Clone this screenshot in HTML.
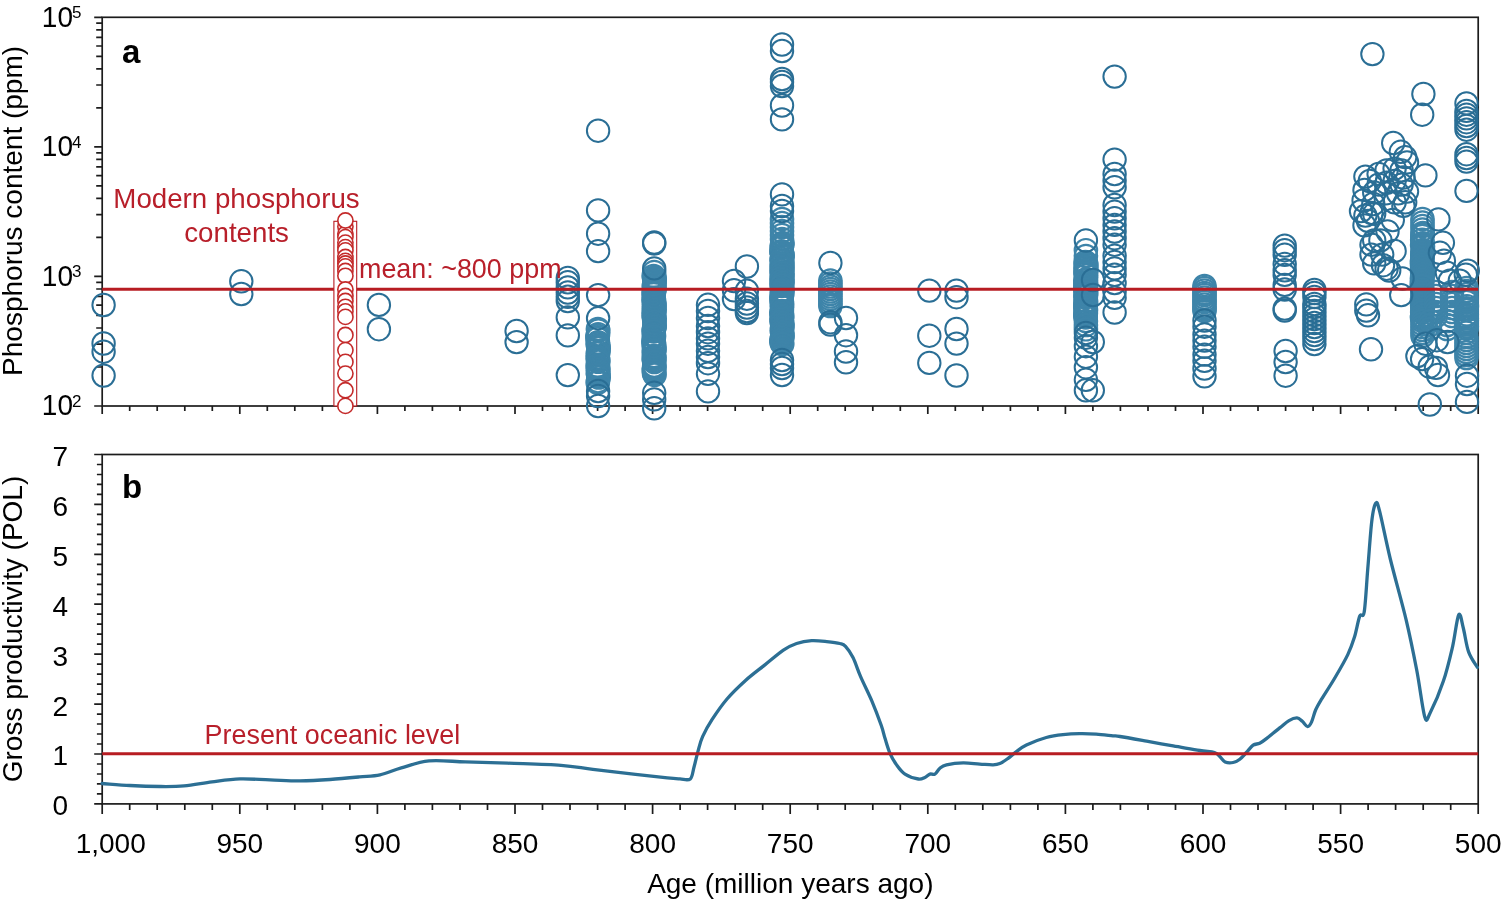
<!DOCTYPE html>
<html><head><meta charset="utf-8"><title>Phosphorus content and gross productivity</title>
<style>html,body{margin:0;padding:0;background:#fff;}svg{display:block;}text{font-family:"Liberation Sans",Arial,sans-serif;}</style></head><body>
<svg width="1503" height="904" viewBox="0 0 1503 904">
<rect x="0" y="0" width="1503" height="904" fill="#fff"/>
<path d="M94.2 406.0H102.2M96.2 367.0H102.2M96.2 344.2H102.2M96.2 328.0H102.2M96.2 315.4H102.2M96.2 305.2H102.2M96.2 296.5H102.2M96.2 289.0H102.2M96.2 282.4H102.2M94.2 276.4H102.2M96.2 237.4H102.2M96.2 214.6H102.2M96.2 198.4H102.2M96.2 185.9H102.2M96.2 175.6H102.2M96.2 166.9H102.2M96.2 159.4H102.2M96.2 152.8H102.2M94.2 146.9H102.2M96.2 107.9H102.2M96.2 85.0H102.2M96.2 68.9H102.2M96.2 56.3H102.2M96.2 46.0H102.2M96.2 37.4H102.2M96.2 29.9H102.2M96.2 23.2H102.2M94.2 17.3H102.2M1478.2 406.0V414.0M1450.7 406.0V411.0M1423.2 406.0V411.0M1395.6 406.0V411.0M1368.1 406.0V411.0M1340.6 406.0V414.0M1313.1 406.0V411.0M1285.6 406.0V411.0M1258.0 406.0V411.0M1230.5 406.0V411.0M1203.0 406.0V414.0M1175.5 406.0V411.0M1148.0 406.0V411.0M1120.4 406.0V411.0M1092.9 406.0V411.0M1065.4 406.0V414.0M1037.9 406.0V411.0M1010.4 406.0V411.0M982.8 406.0V411.0M955.3 406.0V411.0M927.8 406.0V414.0M900.3 406.0V411.0M872.8 406.0V411.0M845.2 406.0V411.0M817.7 406.0V411.0M790.2 406.0V414.0M762.7 406.0V411.0M735.2 406.0V411.0M707.6 406.0V411.0M680.1 406.0V411.0M652.6 406.0V414.0M625.1 406.0V411.0M597.6 406.0V411.0M570.0 406.0V411.0M542.5 406.0V411.0M515.0 406.0V414.0M487.5 406.0V411.0M460.0 406.0V411.0M432.4 406.0V411.0M404.9 406.0V411.0M377.4 406.0V414.0M349.9 406.0V411.0M322.4 406.0V411.0M294.8 406.0V411.0M267.3 406.0V411.0M239.8 406.0V414.0M212.3 406.0V411.0M184.8 406.0V411.0M157.2 406.0V411.0M129.7 406.0V411.0M102.2 406.0V414.0M94.2 803.9H102.2M96.9 793.9H102.2M96.9 783.9H102.2M96.9 774.0H102.2M96.9 764.0H102.2M94.2 754.0H102.2M96.9 744.0H102.2M96.9 734.0H102.2M96.9 724.0H102.2M96.9 714.1H102.2M94.2 704.1H102.2M96.9 694.1H102.2M96.9 684.1H102.2M96.9 674.1H102.2M96.9 664.1H102.2M94.2 654.2H102.2M96.9 644.2H102.2M96.9 634.2H102.2M96.9 624.2H102.2M96.9 614.2H102.2M94.2 604.2H102.2M96.9 594.3H102.2M96.9 584.3H102.2M96.9 574.3H102.2M96.9 564.3H102.2M94.2 554.3H102.2M96.9 544.3H102.2M96.9 534.4H102.2M96.9 524.4H102.2M96.9 514.4H102.2M94.2 504.4H102.2M96.9 494.4H102.2M96.9 484.4H102.2M96.9 474.5H102.2M96.9 464.5H102.2M94.2 454.5H102.2M1478.2 803.9V813.9M1450.7 803.9V809.9M1423.2 803.9V809.9M1395.6 803.9V809.9M1368.1 803.9V809.9M1340.6 803.9V813.9M1313.1 803.9V809.9M1285.6 803.9V809.9M1258.0 803.9V809.9M1230.5 803.9V809.9M1203.0 803.9V813.9M1175.5 803.9V809.9M1148.0 803.9V809.9M1120.4 803.9V809.9M1092.9 803.9V809.9M1065.4 803.9V813.9M1037.9 803.9V809.9M1010.4 803.9V809.9M982.8 803.9V809.9M955.3 803.9V809.9M927.8 803.9V813.9M900.3 803.9V809.9M872.8 803.9V809.9M845.2 803.9V809.9M817.7 803.9V809.9M790.2 803.9V813.9M762.7 803.9V809.9M735.2 803.9V809.9M707.6 803.9V809.9M680.1 803.9V809.9M652.6 803.9V813.9M625.1 803.9V809.9M597.6 803.9V809.9M570.0 803.9V809.9M542.5 803.9V809.9M515.0 803.9V813.9M487.5 803.9V809.9M460.0 803.9V809.9M432.4 803.9V809.9M404.9 803.9V809.9M377.4 803.9V813.9M349.9 803.9V809.9M322.4 803.9V809.9M294.8 803.9V809.9M267.3 803.9V809.9M239.8 803.9V813.9M212.3 803.9V809.9M184.8 803.9V809.9M157.2 803.9V809.9M129.7 803.9V809.9M102.2 803.9V813.9" stroke="#1c1c1c" stroke-width="1.7" fill="none"/>
<rect x="102.2" y="17.3" width="1376.0" height="388.7" fill="none" stroke="#1c1c1c" stroke-width="1.7"/>
<rect x="102.2" y="454.5" width="1376.0" height="349.4" fill="none" stroke="#1c1c1c" stroke-width="1.7"/>
<text x="73" y="414.9" font-size="28" text-anchor="end" transform="translate(0 406.0) scale(1 1.06) translate(0 -406.0)">10</text>
<text x="72" y="406.6" font-size="17">2</text>
<text x="73" y="285.3" font-size="28" text-anchor="end" transform="translate(0 276.4) scale(1 1.06) translate(0 -276.4)">10</text>
<text x="72" y="277.0" font-size="17">3</text>
<text x="73" y="155.8" font-size="28" text-anchor="end" transform="translate(0 146.9) scale(1 1.06) translate(0 -146.9)">10</text>
<text x="72" y="147.5" font-size="17">4</text>
<text x="73" y="26.2" font-size="28" text-anchor="end" transform="translate(0 17.3) scale(1 1.06) translate(0 -17.3)">10</text>
<text x="72" y="17.9" font-size="17">5</text>
<text x="68.2" y="815.3" font-size="28" text-anchor="end">0</text>
<text x="68.2" y="765.4" font-size="28" text-anchor="end">1</text>
<text x="68.2" y="715.5" font-size="28" text-anchor="end">2</text>
<text x="68.2" y="665.6" font-size="28" text-anchor="end">3</text>
<text x="68.2" y="615.6" font-size="28" text-anchor="end">4</text>
<text x="68.2" y="565.7" font-size="28" text-anchor="end">5</text>
<text x="68.2" y="515.8" font-size="28" text-anchor="end">6</text>
<text x="68.2" y="465.9" font-size="28" text-anchor="end">7</text>
<text x="110.7" y="852.8" font-size="28" text-anchor="middle">1,000</text>
<text x="239.8" y="852.8" font-size="28" text-anchor="middle">950</text>
<text x="377.4" y="852.8" font-size="28" text-anchor="middle">900</text>
<text x="515.0" y="852.8" font-size="28" text-anchor="middle">850</text>
<text x="652.6" y="852.8" font-size="28" text-anchor="middle">800</text>
<text x="790.2" y="852.8" font-size="28" text-anchor="middle">750</text>
<text x="927.8" y="852.8" font-size="28" text-anchor="middle">700</text>
<text x="1065.4" y="852.8" font-size="28" text-anchor="middle">650</text>
<text x="1203.0" y="852.8" font-size="28" text-anchor="middle">600</text>
<text x="1340.6" y="852.8" font-size="28" text-anchor="middle">550</text>
<text x="1478.2" y="852.8" font-size="28" text-anchor="middle">500</text>
<text x="790.3" y="893.4" font-size="28" text-anchor="middle">Age (million years ago)</text>
<text transform="translate(21.8 210.9) rotate(-90)" font-size="28" text-anchor="middle">Phosphorus content (ppm)</text>
<text transform="translate(21.8 629) rotate(-90)" font-size="28" text-anchor="middle">Gross productivity (POL)</text>
<text x="122" y="63" font-size="33" font-weight="bold">a</text>
<text x="122" y="497.7" font-size="33" font-weight="bold">b</text>
<g fill="none" stroke="#3e84a9" stroke-width="2.2"><circle cx="597.9" cy="329.0" r="11.2"/><circle cx="598.3" cy="330.5" r="11.2"/><circle cx="598.1" cy="334.2" r="11.2"/><circle cx="597.6" cy="335.7" r="11.2"/><circle cx="597.5" cy="337.2" r="11.2"/><circle cx="597.6" cy="338.7" r="11.2"/><circle cx="598.0" cy="342.4" r="11.2"/><circle cx="597.6" cy="343.9" r="11.2"/><circle cx="598.3" cy="345.4" r="11.2"/><circle cx="598.2" cy="346.9" r="11.2"/><circle cx="598.7" cy="348.4" r="11.2"/><circle cx="598.5" cy="352.1" r="11.2"/><circle cx="597.7" cy="353.6" r="11.2"/><circle cx="597.9" cy="357.3" r="11.2"/><circle cx="597.7" cy="358.8" r="11.2"/><circle cx="598.3" cy="360.3" r="11.2"/><circle cx="598.2" cy="361.8" r="11.2"/><circle cx="597.6" cy="365.5" r="11.2"/><circle cx="598.3" cy="367.0" r="11.2"/><circle cx="597.9" cy="368.5" r="11.2"/><circle cx="598.0" cy="370.0" r="11.2"/><circle cx="598.5" cy="371.5" r="11.2"/><circle cx="597.8" cy="373.0" r="11.2"/><circle cx="598.1" cy="374.5" r="11.2"/><circle cx="598.4" cy="376.0" r="11.2"/><circle cx="598.7" cy="377.5" r="11.2"/><circle cx="598.0" cy="381.2" r="11.2"/><circle cx="597.7" cy="382.7" r="11.2"/><circle cx="654.2" cy="272.0" r="11.2"/><circle cx="653.6" cy="276.0" r="11.2"/><circle cx="654.5" cy="277.5" r="11.2"/><circle cx="654.7" cy="279.0" r="11.2"/><circle cx="654.4" cy="280.5" r="11.2"/><circle cx="654.3" cy="282.0" r="11.2"/><circle cx="654.6" cy="283.5" r="11.2"/><circle cx="654.2" cy="285.0" r="11.2"/><circle cx="653.7" cy="286.5" r="11.2"/><circle cx="654.4" cy="288.0" r="11.2"/><circle cx="654.6" cy="289.5" r="11.2"/><circle cx="654.1" cy="291.0" r="11.2"/><circle cx="653.6" cy="292.5" r="11.2"/><circle cx="653.8" cy="294.0" r="11.2"/><circle cx="653.7" cy="297.7" r="11.2"/><circle cx="653.8" cy="299.2" r="11.2"/><circle cx="654.1" cy="300.7" r="11.2"/><circle cx="653.7" cy="302.2" r="11.2"/><circle cx="654.3" cy="303.7" r="11.2"/><circle cx="654.6" cy="305.2" r="11.2"/><circle cx="653.9" cy="306.7" r="11.2"/><circle cx="654.0" cy="308.2" r="11.2"/><circle cx="654.7" cy="309.7" r="11.2"/><circle cx="653.8" cy="311.2" r="11.2"/><circle cx="653.9" cy="312.7" r="11.2"/><circle cx="654.3" cy="314.2" r="11.2"/><circle cx="653.6" cy="315.7" r="11.2"/><circle cx="654.0" cy="317.2" r="11.2"/><circle cx="654.7" cy="318.7" r="11.2"/><circle cx="654.2" cy="320.2" r="11.2"/><circle cx="654.4" cy="321.7" r="11.2"/><circle cx="654.7" cy="325.4" r="11.2"/><circle cx="654.6" cy="326.9" r="11.2"/><circle cx="654.1" cy="328.4" r="11.2"/><circle cx="653.7" cy="329.9" r="11.2"/><circle cx="653.7" cy="331.4" r="11.2"/><circle cx="653.9" cy="335.1" r="11.2"/><circle cx="654.0" cy="336.6" r="11.2"/><circle cx="653.6" cy="340.3" r="11.2"/><circle cx="653.7" cy="341.8" r="11.2"/><circle cx="653.6" cy="343.3" r="11.2"/><circle cx="654.3" cy="344.8" r="11.2"/><circle cx="653.9" cy="346.3" r="11.2"/><circle cx="654.0" cy="347.8" r="11.2"/><circle cx="654.6" cy="349.3" r="11.2"/><circle cx="654.2" cy="350.8" r="11.2"/><circle cx="653.7" cy="352.3" r="11.2"/><circle cx="654.0" cy="356.0" r="11.2"/><circle cx="654.6" cy="357.5" r="11.2"/><circle cx="653.6" cy="359.0" r="11.2"/><circle cx="654.2" cy="360.5" r="11.2"/><circle cx="654.3" cy="362.0" r="11.2"/><circle cx="654.2" cy="365.7" r="11.2"/><circle cx="654.6" cy="367.2" r="11.2"/><circle cx="653.9" cy="368.7" r="11.2"/><circle cx="653.8" cy="370.2" r="11.2"/><circle cx="654.2" cy="371.7" r="11.2"/><circle cx="654.0" cy="373.2" r="11.2"/><circle cx="654.6" cy="374.7" r="11.2"/><circle cx="782.0" cy="219.0" r="11.2"/><circle cx="782.0" cy="223.0" r="11.2"/><circle cx="782.0" cy="227.0" r="11.2"/><circle cx="782.0" cy="231.0" r="11.2"/><circle cx="782.0" cy="235.0" r="11.2"/><circle cx="782.0" cy="239.0" r="11.2"/><circle cx="782.4" cy="243.0" r="11.2"/><circle cx="782.4" cy="244.5" r="11.2"/><circle cx="781.7" cy="246.0" r="11.2"/><circle cx="781.8" cy="247.5" r="11.2"/><circle cx="781.4" cy="251.2" r="11.2"/><circle cx="781.7" cy="252.7" r="11.2"/><circle cx="782.5" cy="254.2" r="11.2"/><circle cx="782.5" cy="255.7" r="11.2"/><circle cx="782.5" cy="257.2" r="11.2"/><circle cx="781.7" cy="258.7" r="11.2"/><circle cx="781.6" cy="260.2" r="11.2"/><circle cx="782.1" cy="261.7" r="11.2"/><circle cx="782.4" cy="263.2" r="11.2"/><circle cx="782.2" cy="264.7" r="11.2"/><circle cx="781.5" cy="266.2" r="11.2"/><circle cx="782.5" cy="267.7" r="11.2"/><circle cx="782.3" cy="269.2" r="11.2"/><circle cx="781.6" cy="270.7" r="11.2"/><circle cx="781.8" cy="272.2" r="11.2"/><circle cx="782.6" cy="273.7" r="11.2"/><circle cx="781.9" cy="275.2" r="11.2"/><circle cx="782.3" cy="276.7" r="11.2"/><circle cx="781.6" cy="278.2" r="11.2"/><circle cx="782.5" cy="279.7" r="11.2"/><circle cx="781.6" cy="281.2" r="11.2"/><circle cx="782.6" cy="282.7" r="11.2"/><circle cx="781.8" cy="284.2" r="11.2"/><circle cx="781.6" cy="285.7" r="11.2"/><circle cx="782.6" cy="289.4" r="11.2"/><circle cx="782.0" cy="290.9" r="11.2"/><circle cx="781.9" cy="292.4" r="11.2"/><circle cx="782.4" cy="293.9" r="11.2"/><circle cx="781.7" cy="295.4" r="11.2"/><circle cx="781.7" cy="296.9" r="11.2"/><circle cx="781.7" cy="298.4" r="11.2"/><circle cx="781.6" cy="299.9" r="11.2"/><circle cx="781.8" cy="301.4" r="11.2"/><circle cx="782.1" cy="302.9" r="11.2"/><circle cx="781.9" cy="304.4" r="11.2"/><circle cx="782.0" cy="305.9" r="11.2"/><circle cx="782.0" cy="307.4" r="11.2"/><circle cx="781.9" cy="311.1" r="11.2"/><circle cx="781.4" cy="312.6" r="11.2"/><circle cx="781.6" cy="314.1" r="11.2"/><circle cx="782.3" cy="315.6" r="11.2"/><circle cx="781.8" cy="317.1" r="11.2"/><circle cx="782.1" cy="318.6" r="11.2"/><circle cx="781.5" cy="320.1" r="11.2"/><circle cx="781.7" cy="321.6" r="11.2"/><circle cx="782.3" cy="323.1" r="11.2"/><circle cx="782.1" cy="324.6" r="11.2"/><circle cx="782.5" cy="326.1" r="11.2"/><circle cx="782.1" cy="327.6" r="11.2"/><circle cx="782.0" cy="329.1" r="11.2"/><circle cx="781.9" cy="330.6" r="11.2"/><circle cx="782.0" cy="332.1" r="11.2"/><circle cx="782.2" cy="333.6" r="11.2"/><circle cx="782.5" cy="335.1" r="11.2"/><circle cx="782.1" cy="336.6" r="11.2"/><circle cx="782.4" cy="338.1" r="11.2"/><circle cx="781.5" cy="339.6" r="11.2"/><circle cx="781.5" cy="341.1" r="11.2"/><circle cx="781.5" cy="342.6" r="11.2"/><circle cx="782.3" cy="344.1" r="11.2"/><circle cx="830.4" cy="280.6" r="11.2"/><circle cx="830.4" cy="283.5" r="11.2"/><circle cx="830.4" cy="286.5" r="11.2"/><circle cx="830.4" cy="289.0" r="11.2"/><circle cx="830.4" cy="291.5" r="11.2"/><circle cx="830.4" cy="294.0" r="11.2"/><circle cx="830.4" cy="296.5" r="11.2"/><circle cx="830.4" cy="299.0" r="11.2"/><circle cx="830.4" cy="301.5" r="11.2"/><circle cx="830.4" cy="304.0" r="11.2"/><circle cx="830.4" cy="306.0" r="11.2"/><circle cx="1085.9" cy="250.2" r="11.2"/><circle cx="1085.9" cy="256.0" r="11.2"/><circle cx="1085.5" cy="262.0" r="11.2"/><circle cx="1086.1" cy="263.5" r="11.2"/><circle cx="1086.4" cy="265.0" r="11.2"/><circle cx="1085.6" cy="266.5" r="11.2"/><circle cx="1085.8" cy="268.0" r="11.2"/><circle cx="1086.5" cy="269.5" r="11.2"/><circle cx="1085.5" cy="271.0" r="11.2"/><circle cx="1085.9" cy="272.5" r="11.2"/><circle cx="1085.5" cy="274.0" r="11.2"/><circle cx="1086.2" cy="275.5" r="11.2"/><circle cx="1086.0" cy="279.2" r="11.2"/><circle cx="1085.3" cy="280.7" r="11.2"/><circle cx="1086.0" cy="282.2" r="11.2"/><circle cx="1085.4" cy="283.7" r="11.2"/><circle cx="1086.2" cy="285.2" r="11.2"/><circle cx="1085.4" cy="286.7" r="11.2"/><circle cx="1085.3" cy="288.2" r="11.2"/><circle cx="1085.6" cy="289.7" r="11.2"/><circle cx="1085.8" cy="291.2" r="11.2"/><circle cx="1086.3" cy="292.7" r="11.2"/><circle cx="1085.5" cy="294.2" r="11.2"/><circle cx="1086.0" cy="295.7" r="11.2"/><circle cx="1085.4" cy="297.2" r="11.2"/><circle cx="1086.1" cy="300.9" r="11.2"/><circle cx="1085.4" cy="302.4" r="11.2"/><circle cx="1086.1" cy="303.9" r="11.2"/><circle cx="1085.4" cy="305.4" r="11.2"/><circle cx="1085.4" cy="306.9" r="11.2"/><circle cx="1085.8" cy="308.4" r="11.2"/><circle cx="1086.0" cy="309.9" r="11.2"/><circle cx="1085.6" cy="311.4" r="11.2"/><circle cx="1085.9" cy="312.9" r="11.2"/><circle cx="1085.4" cy="314.4" r="11.2"/><circle cx="1085.4" cy="315.9" r="11.2"/><circle cx="1085.7" cy="317.4" r="11.2"/><circle cx="1085.9" cy="321.0" r="11.2"/><circle cx="1085.9" cy="325.0" r="11.2"/><circle cx="1085.9" cy="329.3" r="11.2"/><circle cx="1204.5" cy="286.0" r="11.2"/><circle cx="1204.5" cy="288.0" r="11.2"/><circle cx="1204.5" cy="290.5" r="11.2"/><circle cx="1204.5" cy="293.0" r="11.2"/><circle cx="1204.5" cy="295.0" r="11.2"/><circle cx="1204.5" cy="297.5" r="11.2"/><circle cx="1204.5" cy="300.0" r="11.2"/><circle cx="1204.5" cy="302.0" r="11.2"/><circle cx="1204.5" cy="304.5" r="11.2"/><circle cx="1204.5" cy="307.0" r="11.2"/><circle cx="1204.5" cy="309.0" r="11.2"/><circle cx="1204.5" cy="311.0" r="11.2"/><circle cx="1422.5" cy="219.0" r="11.2"/><circle cx="1422.5" cy="222.5" r="11.2"/><circle cx="1422.5" cy="226.0" r="11.2"/><circle cx="1422.5" cy="229.5" r="11.2"/><circle cx="1422.8" cy="233.0" r="11.2"/><circle cx="1422.5" cy="234.5" r="11.2"/><circle cx="1422.3" cy="236.0" r="11.2"/><circle cx="1422.2" cy="239.7" r="11.2"/><circle cx="1422.8" cy="243.4" r="11.2"/><circle cx="1422.1" cy="244.9" r="11.2"/><circle cx="1423.0" cy="246.4" r="11.2"/><circle cx="1422.9" cy="250.1" r="11.2"/><circle cx="1422.5" cy="251.6" r="11.2"/><circle cx="1422.4" cy="253.1" r="11.2"/><circle cx="1422.7" cy="254.6" r="11.2"/><circle cx="1422.3" cy="256.1" r="11.2"/><circle cx="1422.7" cy="257.6" r="11.2"/><circle cx="1422.4" cy="259.1" r="11.2"/><circle cx="1422.0" cy="260.6" r="11.2"/><circle cx="1422.0" cy="262.1" r="11.2"/><circle cx="1422.2" cy="263.6" r="11.2"/><circle cx="1422.0" cy="265.1" r="11.2"/><circle cx="1422.9" cy="266.6" r="11.2"/><circle cx="1422.2" cy="268.1" r="11.2"/><circle cx="1422.3" cy="269.6" r="11.2"/><circle cx="1422.1" cy="271.1" r="11.2"/><circle cx="1422.2" cy="272.6" r="11.2"/><circle cx="1423.1" cy="274.1" r="11.2"/><circle cx="1422.2" cy="275.6" r="11.2"/><circle cx="1422.3" cy="277.1" r="11.2"/><circle cx="1421.9" cy="278.6" r="11.2"/><circle cx="1422.5" cy="280.1" r="11.2"/><circle cx="1422.1" cy="281.6" r="11.2"/><circle cx="1421.9" cy="283.1" r="11.2"/><circle cx="1422.0" cy="284.6" r="11.2"/><circle cx="1422.0" cy="286.1" r="11.2"/><circle cx="1422.3" cy="289.8" r="11.2"/><circle cx="1422.6" cy="291.3" r="11.2"/><circle cx="1422.8" cy="292.8" r="11.2"/><circle cx="1422.8" cy="294.3" r="11.2"/><circle cx="1422.4" cy="295.8" r="11.2"/><circle cx="1423.1" cy="297.3" r="11.2"/><circle cx="1422.8" cy="298.8" r="11.2"/><circle cx="1422.0" cy="300.3" r="11.2"/><circle cx="1423.0" cy="301.8" r="11.2"/><circle cx="1422.8" cy="303.3" r="11.2"/><circle cx="1422.1" cy="304.8" r="11.2"/><circle cx="1422.5" cy="306.3" r="11.2"/><circle cx="1422.9" cy="307.8" r="11.2"/><circle cx="1422.6" cy="309.3" r="11.2"/><circle cx="1422.7" cy="310.8" r="11.2"/><circle cx="1422.2" cy="312.3" r="11.2"/><circle cx="1422.1" cy="316.0" r="11.2"/><circle cx="1422.0" cy="317.5" r="11.2"/><circle cx="1422.6" cy="319.0" r="11.2"/><circle cx="1436.0" cy="292.0" r="11.2"/><circle cx="1436.0" cy="296.0" r="11.2"/><circle cx="1436.0" cy="300.0" r="11.2"/><circle cx="1436.0" cy="304.0" r="11.2"/><circle cx="1436.0" cy="308.0" r="11.2"/><circle cx="1436.0" cy="312.0" r="11.2"/><circle cx="1436.0" cy="316.0" r="11.2"/><circle cx="1452.0" cy="292.0" r="11.2"/><circle cx="1452.0" cy="296.0" r="11.2"/><circle cx="1452.0" cy="300.0" r="11.2"/><circle cx="1452.0" cy="304.0" r="11.2"/><circle cx="1452.0" cy="308.0" r="11.2"/><circle cx="1452.0" cy="312.0" r="11.2"/><circle cx="1452.0" cy="316.0" r="11.2"/><circle cx="1466.5" cy="288.0" r="11.2"/><circle cx="1466.5" cy="291.0" r="11.2"/><circle cx="1466.5" cy="294.0" r="11.2"/><circle cx="1466.5" cy="297.0" r="11.2"/><circle cx="1466.7" cy="300.0" r="11.2"/><circle cx="1466.5" cy="302.0" r="11.2"/><circle cx="1466.9" cy="306.2" r="11.2"/><circle cx="1466.5" cy="308.2" r="11.2"/><circle cx="1466.7" cy="310.2" r="11.2"/><circle cx="1466.8" cy="314.4" r="11.2"/><circle cx="1466.0" cy="316.4" r="11.2"/><circle cx="1466.8" cy="318.4" r="11.2"/><circle cx="1466.8" cy="320.4" r="11.2"/><circle cx="1466.5" cy="322.4" r="11.2"/><circle cx="1466.5" cy="324.4" r="11.2"/><circle cx="1466.8" cy="326.4" r="11.2"/><circle cx="1466.7" cy="328.4" r="11.2"/><circle cx="1466.1" cy="332.6" r="11.2"/><circle cx="1466.5" cy="337.0" r="11.2"/><circle cx="1466.5" cy="340.0" r="11.2"/><circle cx="1466.5" cy="343.0" r="11.2"/><circle cx="1466.5" cy="346.0" r="11.2"/><circle cx="1466.5" cy="349.0" r="11.2"/><circle cx="1466.5" cy="352.0" r="11.2"/><circle cx="1466.5" cy="355.0" r="11.2"/><circle cx="1466.5" cy="358.0" r="11.2"/><circle cx="1422.5" cy="321.0" r="11.2"/><circle cx="1422.5" cy="324.0" r="11.2"/><circle cx="1422.5" cy="327.0" r="11.2"/><circle cx="1422.5" cy="330.0" r="11.2"/><circle cx="1422.5" cy="333.0" r="11.2"/><circle cx="1422.5" cy="336.0" r="11.2"/><circle cx="1430.0" cy="321.0" r="11.2"/><circle cx="1430.0" cy="325.0" r="11.2"/><circle cx="1430.0" cy="329.0" r="11.2"/><circle cx="1447.0" cy="321.0" r="11.2"/><circle cx="1447.0" cy="325.0" r="11.2"/><circle cx="1447.0" cy="329.0" r="11.2"/></g>
<g fill="none" stroke="#2a6e95" stroke-width="2"><circle cx="103.6" cy="305.0" r="11.2"/><circle cx="103.6" cy="343.5" r="11.2"/><circle cx="103.6" cy="351.7" r="11.2"/><circle cx="103.6" cy="375.6" r="11.2"/><circle cx="241.3" cy="281.3" r="11.2"/><circle cx="241.3" cy="294.0" r="11.2"/><circle cx="378.9" cy="304.9" r="11.2"/><circle cx="378.9" cy="329.2" r="11.2"/><circle cx="516.6" cy="331.0" r="11.2"/><circle cx="516.6" cy="342.1" r="11.2"/><circle cx="567.8" cy="278.0" r="11.2"/><circle cx="567.8" cy="282.3" r="11.2"/><circle cx="567.8" cy="287.4" r="11.2"/><circle cx="567.8" cy="292.5" r="11.2"/><circle cx="567.8" cy="296.8" r="11.2"/><circle cx="567.8" cy="301.1" r="11.2"/><circle cx="567.8" cy="317.4" r="11.2"/><circle cx="567.8" cy="335.4" r="11.2"/><circle cx="567.8" cy="375.1" r="11.2"/><circle cx="598.1" cy="130.7" r="11.2"/><circle cx="598.1" cy="210.4" r="11.2"/><circle cx="598.1" cy="233.7" r="11.2"/><circle cx="598.1" cy="251.1" r="11.2"/><circle cx="598.1" cy="295.1" r="11.2"/><circle cx="598.1" cy="318.2" r="11.2"/><circle cx="598.1" cy="391.0" r="11.2"/><circle cx="598.1" cy="396.0" r="11.2"/><circle cx="598.1" cy="406.0" r="11.2"/><circle cx="654.2" cy="242.5" r="11.2"/><circle cx="654.2" cy="243.5" r="11.2"/><circle cx="654.2" cy="268.4" r="11.2"/><circle cx="654.2" cy="392.8" r="11.2"/><circle cx="654.2" cy="399.4" r="11.2"/><circle cx="654.2" cy="408.3" r="11.2"/><circle cx="708.0" cy="304.8" r="11.2"/><circle cx="708.0" cy="311.0" r="11.2"/><circle cx="708.0" cy="318.0" r="11.2"/><circle cx="708.0" cy="326.0" r="11.2"/><circle cx="708.0" cy="332.2" r="11.2"/><circle cx="708.0" cy="338.4" r="11.2"/><circle cx="708.0" cy="343.7" r="11.2"/><circle cx="708.0" cy="350.8" r="11.2"/><circle cx="708.0" cy="357.0" r="11.2"/><circle cx="708.0" cy="363.2" r="11.2"/><circle cx="708.0" cy="373.8" r="11.2"/><circle cx="708.0" cy="391.4" r="11.2"/><circle cx="734.0" cy="281.0" r="11.2"/><circle cx="734.0" cy="290.3" r="11.2"/><circle cx="734.0" cy="299.1" r="11.2"/><circle cx="746.9" cy="266.5" r="11.2"/><circle cx="746.9" cy="290.7" r="11.2"/><circle cx="746.9" cy="298.7" r="11.2"/><circle cx="746.9" cy="303.5" r="11.2"/><circle cx="746.9" cy="307.5" r="11.2"/><circle cx="746.9" cy="311.0" r="11.2"/><circle cx="746.9" cy="313.0" r="11.2"/><circle cx="782.0" cy="44.5" r="11.2"/><circle cx="782.0" cy="51.0" r="11.2"/><circle cx="782.0" cy="79.0" r="11.2"/><circle cx="782.0" cy="82.0" r="11.2"/><circle cx="782.0" cy="86.0" r="11.2"/><circle cx="782.0" cy="105.5" r="11.2"/><circle cx="782.0" cy="119.4" r="11.2"/><circle cx="782.0" cy="194.4" r="11.2"/><circle cx="782.0" cy="206.0" r="11.2"/><circle cx="782.0" cy="211.0" r="11.2"/><circle cx="782.0" cy="360.0" r="11.2"/><circle cx="782.0" cy="364.0" r="11.2"/><circle cx="782.0" cy="368.0" r="11.2"/><circle cx="782.0" cy="375.0" r="11.2"/><circle cx="830.4" cy="263.0" r="11.2"/><circle cx="830.4" cy="322.2" r="11.2"/><circle cx="830.4" cy="324.6" r="11.2"/><circle cx="846.0" cy="318.0" r="11.2"/><circle cx="846.0" cy="335.2" r="11.2"/><circle cx="846.0" cy="351.5" r="11.2"/><circle cx="846.0" cy="362.3" r="11.2"/><circle cx="929.3" cy="290.6" r="11.2"/><circle cx="929.3" cy="335.7" r="11.2"/><circle cx="929.3" cy="362.9" r="11.2"/><circle cx="956.5" cy="290.6" r="11.2"/><circle cx="956.5" cy="297.2" r="11.2"/><circle cx="956.5" cy="329.0" r="11.2"/><circle cx="956.5" cy="343.6" r="11.2"/><circle cx="956.5" cy="375.5" r="11.2"/><circle cx="1085.9" cy="240.5" r="11.2"/><circle cx="1085.9" cy="333.0" r="11.2"/><circle cx="1085.9" cy="337.7" r="11.2"/><circle cx="1085.9" cy="346.2" r="11.2"/><circle cx="1085.9" cy="356.7" r="11.2"/><circle cx="1085.9" cy="367.2" r="11.2"/><circle cx="1085.9" cy="379.8" r="11.2"/><circle cx="1085.9" cy="390.3" r="11.2"/><circle cx="1093.0" cy="280.0" r="11.2"/><circle cx="1093.0" cy="295.0" r="11.2"/><circle cx="1092.8" cy="342.0" r="11.2"/><circle cx="1092.8" cy="390.3" r="11.2"/><circle cx="1114.6" cy="76.6" r="11.2"/><circle cx="1114.6" cy="159.6" r="11.2"/><circle cx="1114.6" cy="174.0" r="11.2"/><circle cx="1114.6" cy="180.6" r="11.2"/><circle cx="1114.6" cy="187.3" r="11.2"/><circle cx="1114.6" cy="205.0" r="11.2"/><circle cx="1114.6" cy="211.6" r="11.2"/><circle cx="1114.6" cy="218.3" r="11.2"/><circle cx="1114.6" cy="224.9" r="11.2"/><circle cx="1114.6" cy="231.5" r="11.2"/><circle cx="1114.6" cy="238.2" r="11.2"/><circle cx="1114.6" cy="244.8" r="11.2"/><circle cx="1114.6" cy="255.7" r="11.2"/><circle cx="1114.6" cy="262.0" r="11.2"/><circle cx="1114.6" cy="268.4" r="11.2"/><circle cx="1114.6" cy="274.7" r="11.2"/><circle cx="1114.6" cy="283.1" r="11.2"/><circle cx="1114.6" cy="291.5" r="11.2"/><circle cx="1114.6" cy="297.8" r="11.2"/><circle cx="1114.6" cy="312.5" r="11.2"/><circle cx="1204.5" cy="320.5" r="11.2"/><circle cx="1204.5" cy="326.7" r="11.2"/><circle cx="1204.5" cy="334.4" r="11.2"/><circle cx="1204.5" cy="340.6" r="11.2"/><circle cx="1204.5" cy="346.8" r="11.2"/><circle cx="1204.5" cy="354.6" r="11.2"/><circle cx="1204.5" cy="360.8" r="11.2"/><circle cx="1204.5" cy="368.5" r="11.2"/><circle cx="1204.5" cy="376.3" r="11.2"/><circle cx="1284.7" cy="245.6" r="11.2"/><circle cx="1284.7" cy="250.2" r="11.2"/><circle cx="1284.7" cy="254.8" r="11.2"/><circle cx="1284.7" cy="263.9" r="11.2"/><circle cx="1284.7" cy="270.3" r="11.2"/><circle cx="1284.7" cy="274.9" r="11.2"/><circle cx="1284.7" cy="284.9" r="11.2"/><circle cx="1284.7" cy="289.5" r="11.2"/><circle cx="1284.7" cy="308.6" r="11.2"/><circle cx="1284.7" cy="310.5" r="11.2"/><circle cx="1285.6" cy="351.0" r="11.2"/><circle cx="1285.6" cy="362.0" r="11.2"/><circle cx="1285.6" cy="375.7" r="11.2"/><circle cx="1314.4" cy="290.0" r="11.2"/><circle cx="1314.4" cy="293.0" r="11.2"/><circle cx="1314.4" cy="297.0" r="11.2"/><circle cx="1314.4" cy="304.0" r="11.2"/><circle cx="1314.4" cy="307.0" r="11.2"/><circle cx="1314.4" cy="311.0" r="11.2"/><circle cx="1314.4" cy="315.0" r="11.2"/><circle cx="1314.4" cy="319.0" r="11.2"/><circle cx="1314.4" cy="323.0" r="11.2"/><circle cx="1314.4" cy="327.0" r="11.2"/><circle cx="1314.4" cy="331.0" r="11.2"/><circle cx="1314.4" cy="335.0" r="11.2"/><circle cx="1314.4" cy="339.0" r="11.2"/><circle cx="1314.4" cy="344.0" r="11.2"/><circle cx="1372.4" cy="54.1" r="11.2"/><circle cx="1423.4" cy="94.0" r="11.2"/><circle cx="1422.2" cy="114.7" r="11.2"/><circle cx="1466.5" cy="103.4" r="11.2"/><circle cx="1466.5" cy="110.9" r="11.2"/><circle cx="1466.5" cy="114.7" r="11.2"/><circle cx="1466.5" cy="118.4" r="11.2"/><circle cx="1466.5" cy="122.2" r="11.2"/><circle cx="1466.5" cy="126.0" r="11.2"/><circle cx="1466.5" cy="129.7" r="11.2"/><circle cx="1466.5" cy="154.2" r="11.2"/><circle cx="1466.5" cy="158.0" r="11.2"/><circle cx="1466.5" cy="161.6" r="11.2"/><circle cx="1466.5" cy="190.9" r="11.2"/><circle cx="1425.4" cy="175.4" r="11.2"/><circle cx="1393.2" cy="143.0" r="11.2"/><circle cx="1400.8" cy="151.8" r="11.2"/><circle cx="1405.2" cy="157.1" r="11.2"/><circle cx="1407.0" cy="162.4" r="11.2"/><circle cx="1365.4" cy="176.6" r="11.2"/><circle cx="1378.6" cy="173.9" r="11.2"/><circle cx="1386.6" cy="170.4" r="11.2"/><circle cx="1394.6" cy="168.6" r="11.2"/><circle cx="1401.6" cy="170.4" r="11.2"/><circle cx="1403.4" cy="177.5" r="11.2"/><circle cx="1401.6" cy="184.6" r="11.2"/><circle cx="1394.6" cy="181.0" r="11.2"/><circle cx="1386.6" cy="182.8" r="11.2"/><circle cx="1378.6" cy="184.6" r="11.2"/><circle cx="1369.8" cy="181.0" r="11.2"/><circle cx="1364.5" cy="189.9" r="11.2"/><circle cx="1374.2" cy="192.5" r="11.2"/><circle cx="1385.7" cy="193.4" r="11.2"/><circle cx="1398.1" cy="193.4" r="11.2"/><circle cx="1407.0" cy="191.6" r="11.2"/><circle cx="1405.2" cy="202.3" r="11.2"/><circle cx="1394.6" cy="202.3" r="11.2"/><circle cx="1363.6" cy="200.5" r="11.2"/><circle cx="1373.3" cy="204.0" r="11.2"/><circle cx="1361.0" cy="211.1" r="11.2"/><circle cx="1371.5" cy="212.9" r="11.2"/><circle cx="1365.4" cy="215.6" r="11.2"/><circle cx="1368.0" cy="220.9" r="11.2"/><circle cx="1364.5" cy="225.4" r="11.2"/><circle cx="1374.2" cy="213.8" r="11.2"/><circle cx="1392.8" cy="220.0" r="11.2"/><circle cx="1387.5" cy="231.5" r="11.2"/><circle cx="1374.2" cy="240.4" r="11.2"/><circle cx="1371.5" cy="244.8" r="11.2"/><circle cx="1380.4" cy="240.4" r="11.2"/><circle cx="1394.6" cy="251.0" r="11.2"/><circle cx="1371.5" cy="254.6" r="11.2"/><circle cx="1382.2" cy="254.6" r="11.2"/><circle cx="1374.2" cy="263.4" r="11.2"/><circle cx="1383.0" cy="265.2" r="11.2"/><circle cx="1386.6" cy="268.7" r="11.2"/><circle cx="1389.2" cy="270.5" r="11.2"/><circle cx="1402.5" cy="278.5" r="11.2"/><circle cx="1403.4" cy="205.9" r="11.2"/><circle cx="1401.2" cy="295.1" r="11.2"/><circle cx="1366.3" cy="304.4" r="11.2"/><circle cx="1366.3" cy="310.6" r="11.2"/><circle cx="1368.0" cy="315.3" r="11.2"/><circle cx="1371.0" cy="349.3" r="11.2"/><circle cx="1438.4" cy="219.4" r="11.2"/><circle cx="1442.9" cy="242.8" r="11.2"/><circle cx="1439.9" cy="252.8" r="11.2"/><circle cx="1443.9" cy="260.7" r="11.2"/><circle cx="1446.9" cy="272.7" r="11.2"/><circle cx="1465.8" cy="274.7" r="11.2"/><circle cx="1467.8" cy="270.7" r="11.2"/><circle cx="1459.8" cy="280.6" r="11.2"/><circle cx="1449.9" cy="280.6" r="11.2"/><circle cx="1467.0" cy="375.7" r="11.2"/><circle cx="1467.0" cy="384.0" r="11.2"/><circle cx="1467.0" cy="401.9" r="11.2"/><circle cx="1425.4" cy="343.7" r="11.2"/><circle cx="1436.9" cy="340.2" r="11.2"/><circle cx="1447.5" cy="342.0" r="11.2"/><circle cx="1417.4" cy="356.1" r="11.2"/><circle cx="1422.1" cy="359.1" r="11.2"/><circle cx="1429.7" cy="366.7" r="11.2"/><circle cx="1438.0" cy="375.0" r="11.2"/><circle cx="1429.8" cy="404.5" r="11.2"/><circle cx="1436.0" cy="367.9" r="11.2"/></g>
<path d="M102.2 289.2H1478.2" stroke="#b71c22" stroke-width="3.1"/>
<rect x="333.9" y="221.3" width="22.8" height="184.7" fill="#fff" stroke="#b71c22" stroke-width="1.1"/>
<g fill="#fff" stroke="#c42a2a" stroke-width="1.6"><circle cx="345.4" cy="226.6" r="7.6"/><circle cx="345.4" cy="233.8" r="7.6"/><circle cx="345.4" cy="237.1" r="7.6"/><circle cx="345.4" cy="242.6" r="7.6"/><circle cx="345.4" cy="247.1" r="7.6"/><circle cx="345.4" cy="250.4" r="7.6"/><circle cx="345.4" cy="257.0" r="7.6"/><circle cx="345.4" cy="260.9" r="7.6"/><circle cx="345.4" cy="263.5" r="7.6"/><circle cx="345.4" cy="266.4" r="7.6"/><circle cx="345.4" cy="271.0" r="7.6"/><circle cx="345.4" cy="275.8" r="7.6"/><circle cx="345.4" cy="289.5" r="7.6"/><circle cx="345.4" cy="296.0" r="7.6"/><circle cx="345.4" cy="301.0" r="7.6"/><circle cx="345.4" cy="306.8" r="7.6"/><circle cx="345.4" cy="311.3" r="7.6"/><circle cx="345.4" cy="316.9" r="7.6"/><circle cx="345.4" cy="335.0" r="7.6"/><circle cx="345.4" cy="350.1" r="7.6"/><circle cx="345.4" cy="361.9" r="7.6"/><circle cx="345.4" cy="373.6" r="7.6"/><circle cx="345.4" cy="390.2" r="7.6"/><circle cx="345.4" cy="405.9" r="7.6"/><circle cx="345.4" cy="220.5" r="7.6"/></g>
<g fill="#b81f2a"><text x="236.5" y="208.4" font-size="27.7" text-anchor="middle">Modern phosphorus</text><text x="236.6" y="241.9" font-size="27.7" text-anchor="middle">contents</text><text x="359" y="277.6" font-size="26.9">mean: ~800 ppm</text><text x="204.6" y="743.5" font-size="26.9">Present oceanic level</text></g>
<path d="M102.0 783.5C106.7 783.8 120.3 785.0 130.0 785.5C139.7 786.0 151.0 786.4 160.0 786.5C169.0 786.6 175.3 786.7 184.0 785.9C192.7 785.1 202.7 783.1 212.0 781.9C221.3 780.7 230.3 779.2 240.0 778.9C249.7 778.6 260.0 779.6 270.0 779.9C280.0 780.2 290.0 781.0 300.0 780.9C310.0 780.8 320.1 780.2 330.0 779.5C339.9 778.8 351.2 777.7 359.5 776.9C367.8 776.1 373.0 776.3 380.0 774.8C387.0 773.3 393.1 770.2 401.3 767.9C409.5 765.6 418.4 761.9 429.0 760.9C439.6 759.9 452.1 761.5 465.2 761.9C478.3 762.3 491.7 762.6 507.7 763.2C523.7 763.8 546.8 764.3 561.0 765.3C575.2 766.3 580.5 767.9 592.9 769.4C605.3 770.9 623.1 772.9 635.5 774.3C647.9 775.7 660.0 777.1 667.4 777.9C674.8 778.7 676.2 778.7 680.0 778.9C683.8 779.1 687.9 780.9 690.3 778.9C692.6 776.9 692.8 771.2 694.1 766.7C695.4 762.2 696.5 756.6 697.9 751.6C699.3 746.6 700.2 741.9 702.6 736.6C705.0 731.3 707.9 726.0 712.0 719.7C716.1 713.4 721.4 705.6 727.0 699.0C732.6 692.4 739.5 685.9 745.8 680.2C752.1 674.6 758.3 670.1 764.6 665.1C770.9 660.1 778.1 653.7 783.4 650.1C788.7 646.5 791.9 645.1 796.6 643.5C801.3 641.9 806.6 641.0 811.6 640.7C816.6 640.4 822.0 641.1 826.7 641.6C831.4 642.1 836.7 642.7 839.8 643.5C842.9 644.3 843.3 643.9 845.5 646.3C847.7 648.6 850.5 652.6 853.0 657.6C855.5 662.6 857.4 669.2 860.5 676.4C863.6 683.6 868.3 692.8 871.8 700.9C875.2 709.0 879.0 719.1 881.2 725.3C883.4 731.5 883.5 733.6 885.0 738.3C886.5 743.0 888.1 748.9 890.0 753.3C891.9 757.7 894.1 761.4 896.6 764.9C899.1 768.4 901.4 771.8 905.0 774.1C908.6 776.5 915.0 778.5 918.3 779.0C921.6 779.5 923.0 778.2 924.9 777.4C926.8 776.6 928.2 774.6 929.9 774.1C931.6 773.6 933.2 775.1 934.9 774.1C936.6 773.1 938.0 769.7 939.9 768.2C941.8 766.7 942.6 765.8 946.5 764.9C950.4 764.0 957.7 763.0 963.2 762.9C968.8 762.8 974.8 763.8 979.8 764.1C984.8 764.4 989.8 765.0 993.1 764.9C996.4 764.8 997.3 764.7 999.8 763.6C1002.3 762.5 1005.3 760.3 1008.1 758.3C1010.9 756.3 1013.3 753.8 1016.4 751.6C1019.5 749.4 1021.4 747.4 1026.4 745.0C1031.4 742.6 1040.2 739.2 1046.3 737.5C1052.4 735.8 1057.5 735.2 1063.0 734.6C1068.5 734.0 1074.1 733.7 1079.6 733.6C1085.1 733.5 1090.7 733.7 1096.2 734.1C1101.8 734.5 1108.9 735.4 1112.9 735.8C1116.9 736.2 1114.4 735.6 1120.0 736.5C1125.6 737.4 1137.7 739.6 1146.6 741.2C1155.5 742.8 1164.3 744.4 1173.2 745.9C1182.1 747.4 1192.9 749.4 1199.8 750.5C1206.7 751.6 1211.2 751.5 1214.5 752.5C1217.8 753.5 1218.0 754.9 1219.8 756.5C1221.6 758.1 1222.9 760.9 1225.1 761.9C1227.3 762.9 1230.6 763.0 1233.1 762.5C1235.5 762.0 1237.6 760.9 1239.8 759.2C1242.0 757.5 1244.2 754.8 1246.4 752.5C1248.6 750.2 1250.9 746.8 1253.1 745.2C1255.3 743.7 1257.5 744.3 1259.7 743.2C1261.9 742.1 1263.1 741.2 1266.4 738.6C1269.7 736.0 1275.9 730.9 1279.7 727.9C1283.5 724.9 1286.1 722.3 1289.0 720.6C1291.9 718.9 1294.8 717.8 1297.0 717.9C1299.2 718.0 1300.5 719.8 1302.3 721.3C1304.1 722.8 1306.0 726.5 1307.6 726.6C1309.1 726.7 1310.3 724.7 1311.6 721.9C1312.9 719.1 1314.0 713.7 1315.6 710.0C1317.2 706.3 1318.0 705.0 1321.2 699.7C1324.4 694.5 1330.1 686.0 1334.5 678.5C1338.9 671.0 1344.5 661.5 1347.8 654.6C1351.1 647.7 1352.4 643.7 1354.4 637.3C1356.4 630.9 1358.1 620.3 1359.7 616.1C1361.3 611.9 1362.9 619.9 1364.2 612.1C1365.5 604.4 1366.5 584.6 1367.7 569.6C1369.0 554.6 1370.4 532.9 1371.7 521.9C1373.0 510.8 1374.4 505.1 1375.7 503.3C1377.0 501.5 1377.2 501.9 1379.6 511.2C1382.0 520.5 1385.9 540.9 1390.3 559.0C1394.7 577.1 1401.8 601.5 1406.2 620.1C1410.6 638.7 1413.7 654.4 1416.8 670.5C1419.9 686.6 1422.6 709.9 1424.8 717.0C1427.0 724.1 1427.0 719.0 1430.1 713.0C1433.2 707.0 1439.7 692.2 1443.4 681.1C1447.2 670.0 1450.0 657.7 1452.6 646.6C1455.1 635.5 1456.9 617.9 1458.7 614.8C1460.5 611.7 1461.7 621.8 1463.3 628.0C1464.9 634.2 1466.3 645.4 1468.6 651.9C1470.9 658.4 1475.8 664.7 1477.3 667.3" fill="none" stroke="#2c6f94" stroke-width="3.3" stroke-linejoin="round" stroke-linecap="round"/>
<path d="M102.2 753.8H1478.2" stroke="#b71c22" stroke-width="3.1"/>
</svg></body></html>
